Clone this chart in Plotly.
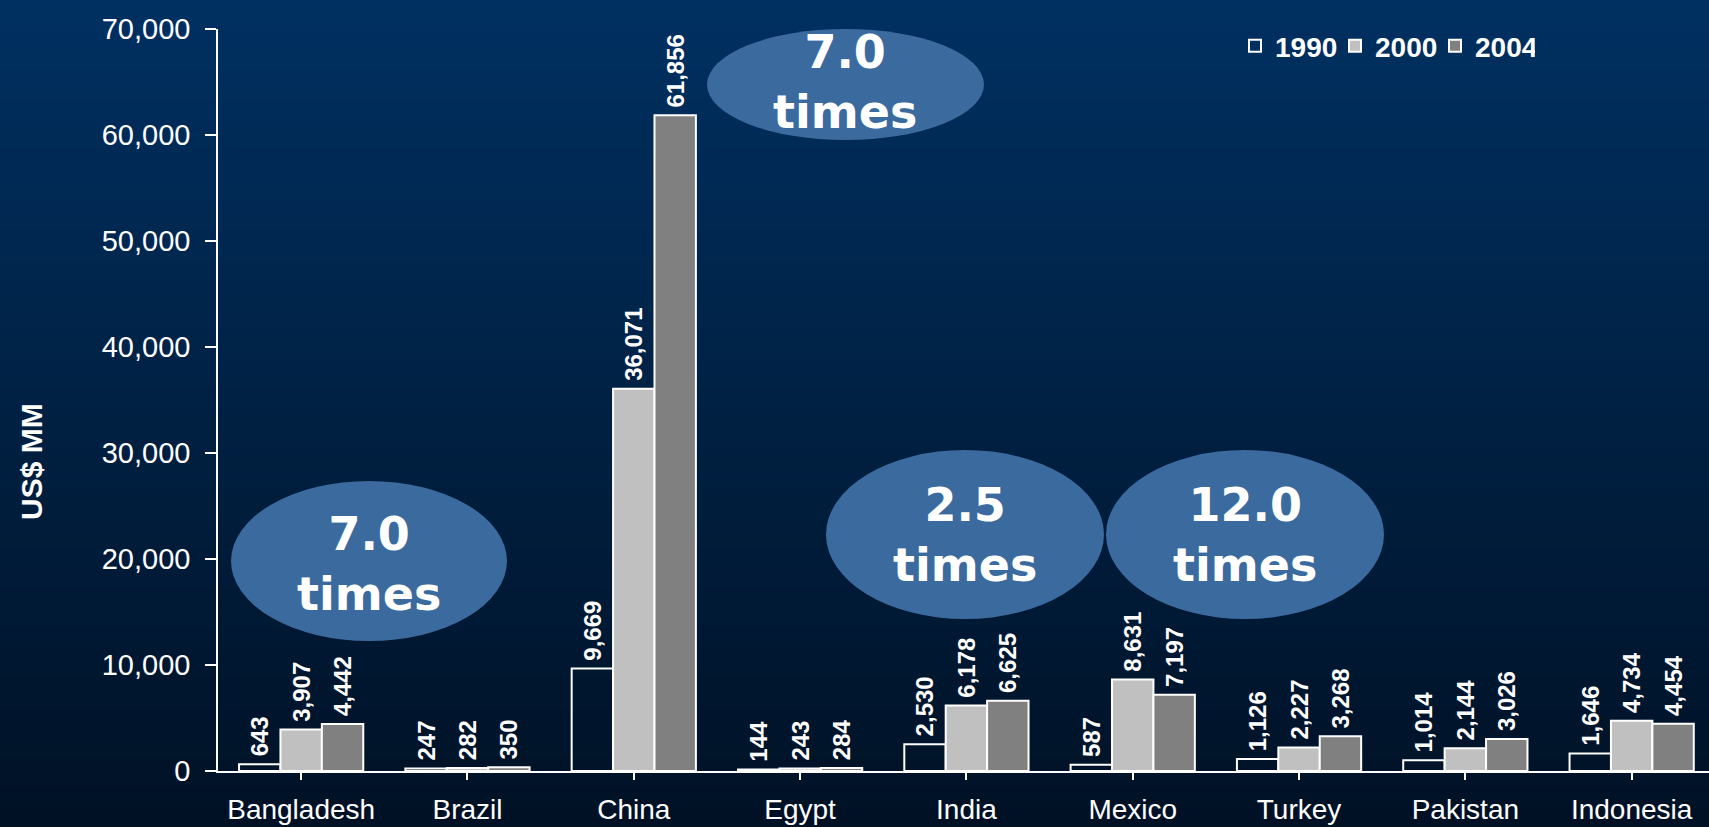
import plotly.graph_objects as go

countries = ["Bangladesh", "Brazil", "China", "Egypt", "India", "Mexico", "Turkey", "Pakistan", "Indonesia"]
v1990 = [643, 247, 9669, 144, 2530, 587, 1126, 1014, 1646]
v2000 = [3907, 282, 36071, 243, 6178, 8631, 2227, 2144, 4734]
v2004 = [4442, 350, 61856, 284, 6625, 7197, 3268, 3026, 4454]
years = ["1990", "2000", "2004"]
bubbles = [("7.0<br>times", 845, 82), ("7.0<br>times", 369, 564), ("2.5<br>times", 965, 535), ("12.0<br>times", 1245, 535)]

W, H = 1709, 827
PL, PR, PT, PB = 218, 1709, 29, 771

def px(X):
    return (X - PL) / (PR - PL)

def py(Y):
    return (PB - Y) / (PB - PT)

fills = ["rgba(0,0,0,0)", "#C0C0C0", "#808080"]
series = [v1990, v2000, v2004]

fig = go.Figure()
for name, vals, fc in zip(years, series, fills):
    fig.add_trace(go.Bar(
        x=list(range(len(countries))), y=vals, name=name,
        marker=dict(color=fc, line=dict(color="white", width=2)),
        texttemplate="\u2009%{y:,}", textposition="outside", textangle=-90,
        textfont=dict(family="Liberation Sans", size=24, color="white", weight="bold"),
        constraintext="none", cliponaxis=False,
    ))

shapes = []
# background gradient
top = (0, 48, 97)
bot = (0, 17, 37)
n = 83
for i in range(n):
    t = i / (n - 1)
    c = tuple(round(top[k] + (bot[k] - top[k]) * t) for k in range(3))
    y0 = i * H / n
    y1 = (i + 1) * H / n + 1
    shapes.append(dict(type="rect", xref="paper", yref="paper", x0=px(0), x1=px(W),
                       y0=py(y1), y1=py(y0), fillcolor="rgb(%d,%d,%d)" % c,
                       line=dict(width=0), layer="below"))

ell = [(707, 984, 29, 140), (231, 507, 481, 641), (826, 1104, 450, 619), (1106, 1384, 450, 619)]
for (x0, x1, y0, y1) in ell:
    shapes.append(dict(type="circle", xref="paper", yref="paper", x0=px(x0), x1=px(x1),
                       y0=py(y1), y1=py(y0), fillcolor="#3A6A9E", line=dict(width=0), layer="above"))

annotations = []
for txt, cx, cy in bubbles:
    annotations.append(dict(text=txt, xref="paper", yref="paper", x=px(cx), y=py(cy),
                            showarrow=False, xanchor="center", yanchor="middle",
                            font=dict(family="DejaVu Sans", size=46, color="white", weight="bold")))
annotations.append(dict(text="US$ MM", xref="paper", yref="paper", x=px(31), y=py(462),
                        showarrow=False, textangle=-90, xanchor="center", yanchor="middle",
                        font=dict(family="Liberation Sans Narrow, Liberation Sans", size=30,
                                  color="white", weight="bold")))

fig.update_layout(
    width=W, height=H,
    margin=dict(l=PL, r=W - PR, t=PT, b=H - PB, pad=0),
    paper_bgcolor="#001225", plot_bgcolor="rgba(0,0,0,0)",
    barmode="group", bargap=0.253, bargroupgap=0,
    shapes=shapes, annotations=annotations,
    showlegend=True,
    legend=dict(orientation="h", x=px(1235), y=py(21), xanchor="left", yanchor="top",
                font=dict(family="Liberation Sans", size=28, color="white", weight="bold"),
                bgcolor="rgba(0,0,0,0)", entrywidth=55, entrywidthmode="pixels",
                itemclick=False),
    xaxis=dict(tickmode="array", tickvals=list(range(len(countries))), ticktext=countries,
               range=[-0.5, 8.465], tickson="boundaries", ticks="outside", ticklen=7,
               tickcolor="white", tickwidth=1.5, showline=True, linecolor="white", linewidth=1.5,
               showgrid=False, zeroline=False, ticklabelstandoff=6,
               tickfont=dict(family="Liberation Sans", size=28, color="white")),
    yaxis=dict(range=[0, 70000], dtick=10000, tickformat=",", ticks="outside", ticklen=11,
               tickcolor="white", tickwidth=1.5, showline=True, linecolor="white", linewidth=1.5,
               showgrid=False, zeroline=False, ticklabelstandoff=9,
               tickfont=dict(family="Liberation Sans", size=29, color="white")),
)

fig.write_html("out.html")
